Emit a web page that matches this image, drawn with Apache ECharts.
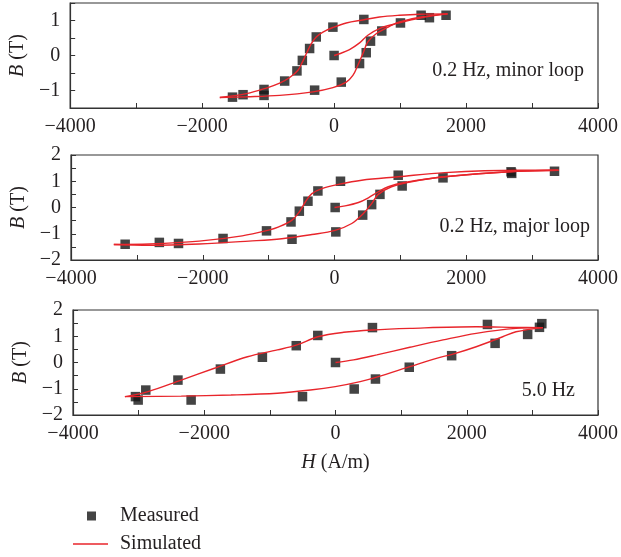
<!DOCTYPE html>
<html>
<head>
<meta charset="utf-8">
<script src="https://cdn.jsdelivr.net/npm/echarts@6/dist/echarts.min.js"></script>
<style>
  html, body { margin: 0; padding: 0; background: #fff; }
  #chart { width: 621px; height: 557px; }
</style>
</head>
<body>
<div id="chart"></div>
<script>
// x ticks / labels
var hTicks = [-4000, -2000, 0, 2000, 4000];

// 0.2 Hz, minor loop
var minorMeasured = [[-1540,-1.19],[-1380,-1.12],[-1062,-0.97],[-1062,-1.14],[-749,-0.73],[-563,-0.44],
  [-481,-0.14],[-371,0.20],[-270,0.53],[-18,0.81],[451,1.03],[0,0.0],[-295,-0.99],[109,-0.76],
  [386,-0.23],[487,0.08],[552,0.41],[723,0.70],[1006,0.93],[1319,1.15],[1445,1.08],[1697,1.15]];
var minorInit = [[0,0],[83,0.05],[234,0.17],[386,0.36],[511,0.58],[688,0.77],[941,0.91],[1319,1.08],[1720,1.19]];
var minorDown = [[1720,1.19],[1300,1.18],[991,1.15],[688,1.10],[451,1.02],[184,0.93],[-18,0.80],[-169,0.67],
  [-270,0.53],[-345,0.34],[-421,0.05],[-481,-0.19],[-547,-0.42],[-673,-0.63],[-825,-0.79],[-1026,-0.93],
  [-1328,-1.09],[-1732,-1.20]];
var minorUp = [[-1732,-1.20],[-1328,-1.18],[-825,-1.14],[-320,-1.04],[-18,-0.92],[184,-0.76],[285,-0.57],
  [360,-0.28],[436,0.05],[511,0.39],[638,0.62],[840,0.83],[991,0.96],[1319,1.10],[1720,1.19]];

// 0.2 Hz, major loop
var majorMeasured = [[-3178,-1.40],[-2659,-1.33],[-2368,-1.37],[-1692,-1.18],[-1032,-0.89],[-660,-0.55],
  [-645,-1.21],[-534,-0.14],[-403,0.24],[-252,0.63],[91,1.00],[10,0],[20,-0.93],[428,-0.29],[564,0.11],
  [690,0.50],[967,1.23],[1027,0.82],[1647,1.13],[2680,1.36],[2690,1.30],[3340,1.38]];
var majorInit = [[0,0],[161,0.06],[363,0.19],[514,0.37],[665,0.60],[816,0.79],[1068,0.95],[1673,1.17],[2780,1.38],[3400,1.42]];
var majorDown = [[3400,1.42],[2780,1.42],[1673,1.33],[967,1.17],[413,1.04],[60,0.88],[-191,0.72],[-343,0.53],
  [-443,0.21],[-534,-0.17],[-645,-0.48],[-846,-0.74],[-997,-0.86],[-1401,-1.08],[-2055,-1.28],[-2810,-1.39],[-3350,-1.41]];
var majorUp = [[-3350,-1.41],[-2810,-1.44],[-2055,-1.39],[-1299,-1.28],[-800,-1.19],[-343,-1.03],[10,-0.87],
  [262,-0.61],[438,-0.23],[564,0.15],[665,0.50],[866,0.79],[1168,0.98],[1673,1.17],[2780,1.38],[3400,1.42]];

// 5.0 Hz
var fastMeasured = [[-3048,-1.30],[-3007,-1.43],[-2891,-1.05],[-2401,-0.67],[-2200,-1.43],[-1754,-0.25],
  [-1114,0.20],[-598,0.64],[-270,1.03],[563,1.33],[0,0],[-503,-1.30],[285,-1.01],[609,-0.63],[1124,-0.18],
  [1770,0.26],[2315,1.45],[2432,0.73],[2928,1.07],[3108,1.34],[3144,1.48]];
var fastInit = [[0,0],[275,0.10],[629,0.29],[1133,0.58],[1639,0.86],[2144,1.11],[2750,1.30],[3160,1.33]];
var fastDown = [[3160,1.33],[2750,1.34],[2144,1.36],[1133,1.30],[563,1.24],[124,1.15],[-270,0.98],[-598,0.66],
  [-886,0.48],[-1341,0.22],[-1845,-0.22],[-2351,-0.67],[-2856,-1.11],[-3209,-1.30]];
var fastUp = [[-3209,-1.30],[-2351,-1.28],[-1594,-1.24],[-886,-1.17],[-382,-1.05],[-3,-0.92],[376,-0.73],
  [629,-0.56],[1133,-0.16],[1538,0.16],[1790,0.32],[2144,0.60],[2548,0.98],[2750,1.17],[3160,1.33]];

var panelNotes = ['0.2 Hz, minor loop', '0.2 Hz, major loop', '5.0 Hz'];

var FONT = 'Liberation Serif';
var FS = 20;
var INK = '#231f20';
var RED = '#e8252b';

function minus(v) { return String(v).replace('-', '\u2212'); }

function xAxis(idx, withName) {
  var ax = {
    type: 'value', gridIndex: idx, min: -4000, max: 4000, interval: 1000,
    axisLine: { show: true, onZero: false, lineStyle: { color: '#333', width: 1.2 } },
    axisTick: { show: true, inside: true, length: 5, lineStyle: { color: '#333' } },
    splitLine: { show: false },
    axisLabel: {
      color: INK, fontFamily: FONT, fontSize: FS, margin: 9,
      formatter: function (v) { return hTicks.indexOf(v) >= 0 ? minus(v) : ''; }
    }
  };
  if (withName) {
    ax.name = '{i|H} (A/m)';
    ax.nameLocation = 'middle';
    ax.nameGap = 38;
    ax.nameTextStyle = { color: INK, fontFamily: FONT, fontSize: FS,
      rich: { i: { fontStyle: 'italic', fontFamily: FONT, fontSize: FS, color: INK } } };
  }
  return ax;
}

function yAxis(idx, lim) {
  return {
    type: 'value', gridIndex: idx, min: -lim, max: lim, interval: 0.5,
    name: '{i|B} (T)', nameLocation: 'middle', nameGap: 41,
    nameTextStyle: { color: INK, fontFamily: FONT, fontSize: FS,
      rich: { i: { fontStyle: 'italic', fontFamily: FONT, fontSize: FS, color: INK } } },
    axisLine: { show: true, onZero: false, lineStyle: { color: '#333', width: 1.2 } },
    axisTick: { show: true, inside: true, length: 5, lineStyle: { color: '#333' } },
    splitLine: { show: false },
    axisLabel: {
      color: INK, fontFamily: FONT, fontSize: FS, margin: 10,
      formatter: function (v) { return Number.isInteger(v) ? minus(v) : ''; }
    }
  };
}

function scatter(idx, data) {
  return { name: 'Measured', type: 'scatter', xAxisIndex: idx, yAxisIndex: idx,
    symbol: 'rect', symbolSize: 9.5, itemStyle: { color: '#151515' }, z: 2, data: data };
}
function curve(idx, data) {
  return { name: 'Simulated', type: 'line', xAxisIndex: idx, yAxisIndex: idx,
    smooth: 0.35, showSymbol: false, symbol: 'none', z: 3,
    lineStyle: { color: RED, width: 1.4 }, itemStyle: { color: RED }, data: data };
}

var chart = echarts.init(document.getElementById('chart'));
chart.setOption({
  animation: false,
  grid: [
    { left: 70, top: 3, width: 529, height: 105, show: true, borderColor: '#333', borderWidth: 1.2 },
    { left: 71, top: 155, width: 530, height: 105, show: true, borderColor: '#333', borderWidth: 1.2 },
    { left: 73, top: 310, width: 529, height: 105, show: true, borderColor: '#333', borderWidth: 1.2 }
  ],
  xAxis: [xAxis(0, false), xAxis(1, false), xAxis(2, true)],
  yAxis: [yAxis(0, 1.5), yAxis(1, 2), yAxis(2, 2)],
  legend: [
    { orient: 'vertical', left: 87, top: 506, padding: 0, itemWidth: 9, itemHeight: 9,
      data: [{ name: 'Measured', icon: 'rect', itemStyle: { color: '#151515' } }],
      textStyle: { color: INK, fontFamily: FONT, fontSize: FS, padding: [0, 0, 0, 19] } },
    { orient: 'vertical', left: 73, top: 534, padding: 0, itemWidth: 35, itemHeight: 1.5,
      data: [{ name: 'Simulated', icon: 'rect', itemStyle: { color: RED } }],
      textStyle: { color: INK, fontFamily: FONT, fontSize: FS, padding: [0, 0, 0, 7] } }
  ],
  graphic: [
    { type: 'text', right: 37, top: 61, style: { text: panelNotes[0], font: FS + 'px "Liberation Serif"', fill: INK } },
    { type: 'text', right: 31, top: 217, style: { text: panelNotes[1], font: FS + 'px "Liberation Serif"', fill: INK } },
    { type: 'text', right: 46, top: 381, style: { text: panelNotes[2], font: FS + 'px "Liberation Serif"', fill: INK } }
  ],
  series: [
    scatter(0, minorMeasured), curve(0, minorInit), curve(0, minorDown), curve(0, minorUp),
    scatter(1, majorMeasured), curve(1, majorInit), curve(1, majorDown), curve(1, majorUp),
    scatter(2, fastMeasured), curve(2, fastInit), curve(2, fastDown), curve(2, fastUp)
  ]
});
</script>
</body>
</html>
